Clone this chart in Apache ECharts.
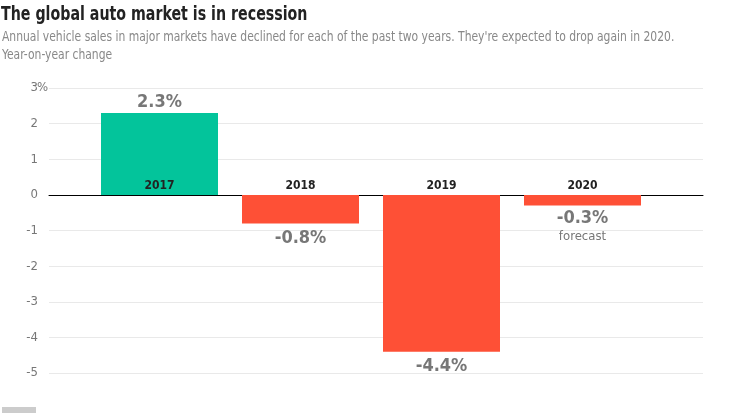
<!DOCTYPE html>
<html><head><meta charset="utf-8">
<script src="https://cdn.jsdelivr.net/npm/echarts@6/dist/echarts.min.js"></script>
<style>html,body{margin:0;padding:0;background:#fff}#c{width:747px;height:413px}</style>
</head><body><div id="c"></div>
<script>
const categories = ['2017', '2018', '2019', '2020'];
const values = [2.3, -0.8, -4.4, -0.3];
const notes = ['', '', '', 'forecast'];
const titleText = 'The global auto market is in recession';
const subtitleText = "Annual vehicle sales in major markets have declined for each of the past two years. They're expected to drop again in 2020.";
const unitText = 'Year-on-year change';
const yMin = -5, yMax = 3;

const GREEN = '#03c49b', RED = '#fe5036';
const narrow = "'Liberation Sans Narrow', 'DejaVu Sans Condensed', sans-serif";
const cond = "'DejaVu Sans Condensed', sans-serif";
const gridTop = 88, gridBottom = 40, H = 413;
const zeroOffset = -(H - gridTop - gridBottom) * yMax / (yMax - yMin);
const chart = echarts.init(document.getElementById('c'));
chart.setOption({
  animation: false,
  grid: [
    {left: 89, right: 94, top: gridTop, bottom: gridBottom},
    {left: 49, right: 44, top: gridTop, bottom: gridBottom}
  ],
  xAxis: [
    {type: 'category', gridIndex: 0, data: categories, position: 'top', offset: zeroOffset, z: 10,
     axisLine: {show: false, onZero: false}, axisTick: {show: false},
     axisLabel: {margin: 3, color: '#222', fontWeight: 'bold', fontSize: 12, fontFamily: narrow}},
    {type: 'value', gridIndex: 1, min: 0, max: 1,
     axisLine: {show: true, onZero: true, lineStyle: {color: '#000', width: 1}},
     axisTick: {show: false}, axisLabel: {show: false}, splitLine: {show: false}}
  ],
  yAxis: [
    {type: 'value', gridIndex: 0, min: yMin, max: yMax, interval: 1, show: false, splitLine: {show: false}},
    {type: 'value', gridIndex: 1, min: yMin, max: yMax, interval: 1,
     axisLine: {show: false}, axisTick: {show: false},
     splitLine: {lineStyle: {color: '#e9e9e9', width: 1}},
     axisLabel: {margin: 11, color: '#777', fontSize: 13, fontFamily: cond,
       formatter: v => String(v)}}
  ],
  graphic: [
    {type: 'text', x: 1, y: 5, scaleX: 0.79, style: {text: titleText, fill: '#222', font: "bold 20px " + narrow, textVerticalAlign: 'top'}},
    {type: 'text', x: 2, y: 30, scaleX: 0.855, style: {text: subtitleText, fill: '#888', font: "14px " + narrow, textVerticalAlign: 'top'}},
    {type: 'text', x: 2, y: 48, scaleX: 0.855, style: {text: unitText, fill: '#888', font: "14px " + narrow, textVerticalAlign: 'top'}},
    {type: 'text', left: 37, top: 81, style: {text: '%', fill: '#777', font: "13px " + cond}},
    {type: 'rect', shape: {x: 2, y: 407, width: 34, height: 8}, style: {fill: '#cccccc'}}
  ],
  series: [{
    type: 'bar', xAxisIndex: 0, yAxisIndex: 0, barWidth: 117, z: 2,
    data: values.map((v, i) => ({
      value: v,
      itemStyle: {color: v >= 0 ? GREEN : RED},
      label: {show: true, position: v >= 0 ? 'top' : 'bottom', distance: v >= 0 ? 1 : (notes[i] ? 3 : 5),
        formatter: () => v.toFixed(1) + '%' + (notes[i] ? '\n{n|' + notes[i] + '}' : '')}
    })),
    label: {color: '#777', fontWeight: 'bold', fontSize: 18, fontFamily: cond, lineHeight: 20,
      rich: {n: {fontSize: 13, fontWeight: 'normal', color: '#777', fontFamily: cond, lineHeight: 16}}}
  }]
});
</script></body></html>
